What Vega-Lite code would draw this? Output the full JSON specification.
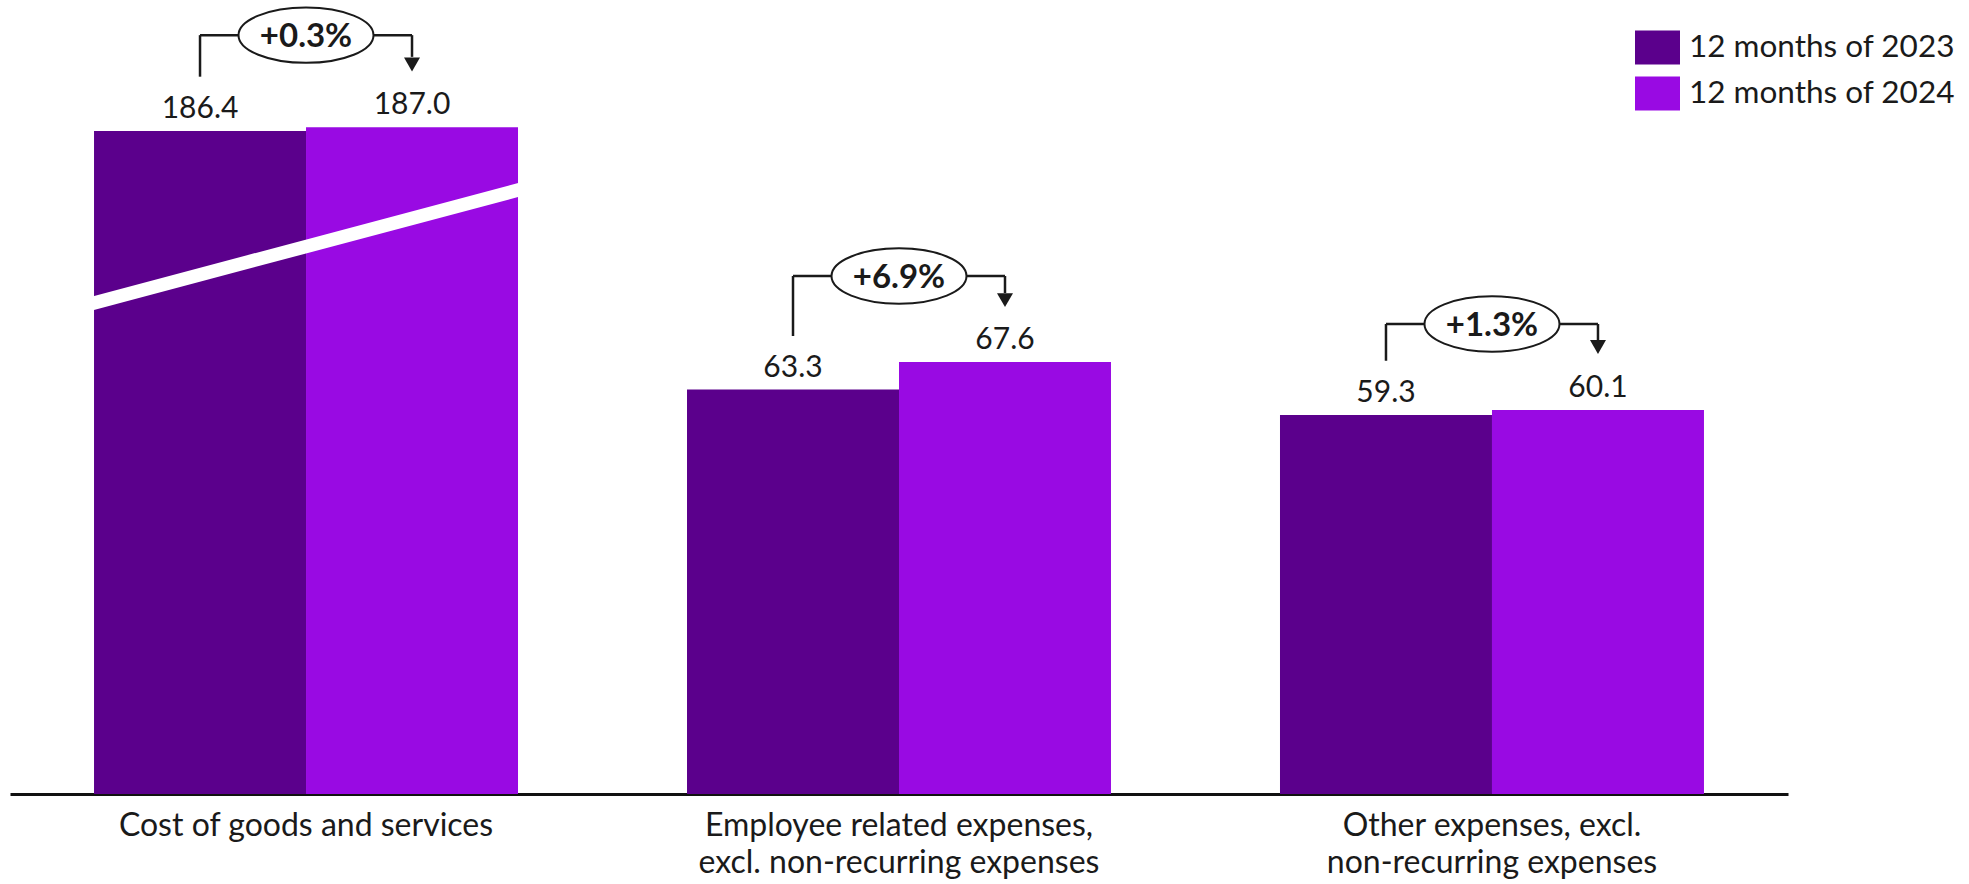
{
  "$schema": "https://vega.github.io/schema/vega-lite/v6.json",
  "width": 1778,
  "height": 794,
  "autosize": "none",
  "padding": {"left": 10, "top": 0, "right": 181, "bottom": 90},
  "datasets": {
    "bars": [
      {"cat": "Cost of goods and services", "series": "12 months of 2023", "value": 186.4},
      {"cat": "Cost of goods and services", "series": "12 months of 2024", "value": 187.0},
      {"cat": "Employee related expenses,|excl. non-recurring expenses", "series": "12 months of 2023", "value": 63.3},
      {"cat": "Employee related expenses,|excl. non-recurring expenses", "series": "12 months of 2024", "value": 67.6},
      {"cat": "Other expenses, excl.|non-recurring expenses", "series": "12 months of 2023", "value": 59.3},
      {"cat": "Other expenses, excl.|non-recurring expenses", "series": "12 months of 2024", "value": 60.1}
    ],
    "brk": [
      {"cat": "Cost of goods and services", "y1": 76.84, "y2": 145.3}
    ],
    "annot": [
      {"cat": "Cost of goods and services", "yh": 201.4, "ylb": 194.9, "yrb": 198.0, "ytri": 196.8, "label": "+0.3%"},
      {"cat": "Employee related expenses,|excl. non-recurring expenses", "yh": 81.06, "ylb": 71.67, "yrb": 78.4, "ytri": 77.3, "label": "+6.9%"},
      {"cat": "Other expenses, excl.|non-recurring expenses", "yh": 73.55, "ylb": 67.8, "yrb": 71.05, "ytri": 69.95, "label": "+1.3%"}
    ]
  },
  "layer": [
    {
      "data": {"name": "bars"},
      "mark": {"type": "bar"},
      "encoding": {
        "x": {
          "field": "cat", "type": "nominal", "sort": null,
          "scale": {"domain": ["Cost of goods and services", "Employee related expenses,|excl. non-recurring expenses", "Other expenses, excl.|non-recurring expenses"], "paddingInner": 0.285, "paddingOuter": 0.1417},
          "axis": {
            "title": null, "labelAngle": 0, "ticks": false, "grid": false,
            "domainColor": "#111111", "domainWidth": 3,
            "labelExpr": "split(datum.label, '|')",
            "labelFont": "Lato", "labelFontSize": 32, "labelColor": "#1a1a1a",
            "labelPadding": 16, "labelLineHeight": 37, "labelLimit": 600
          }
        },
        "xOffset": {"field": "series", "type": "nominal", "scale": {"paddingInner": 0, "paddingOuter": 0}},
        "y": {"field": "value", "type": "quantitative", "axis": null,
          "scale": {"type": "linear", "domain": [0, 90, 180, 210], "range": [794, 218.9, 171.9, -19.8], "zero": false, "nice": false}},
        "color": {
          "field": "series", "type": "nominal",
          "scale": {"domain": ["12 months of 2023", "12 months of 2024"], "range": ["#5B008C", "#990AE3"]},
          "legend": {
            "title": null, "orient": "none", "legendX": 1625, "legendY": 25,
            "symbolType": "M-1,-0.756H1V0.756H-1Z", "symbolSize": 2025, "symbolStrokeWidth": 0, "symbolOpacity": 1,
            "labelFont": "Lato", "labelFontSize": 31.5, "labelColor": "#1a1a1a", "labelOffset": 9,
            "rowPadding": 6, "padding": 0, "labelLimit": 400
          }
        }
      }
    },
    {
      "data": {"name": "bars"},
      "mark": {"type": "text", "baseline": "alphabetic", "dy": -13, "font": "Lato", "fontSize": 30, "color": "#1a1a1a"},
      "encoding": {
        "x": {"field": "cat", "type": "nominal", "sort": null},
        "xOffset": {"field": "series", "type": "nominal"},
        "y": {"field": "value", "type": "quantitative"},
        "text": {"field": "value", "type": "quantitative", "format": ".1f"}
      }
    },
    {
      "data": {"name": "brk"},
      "mark": {"type": "rule", "color": "#ffffff", "strokeWidth": 13.5, "strokeCap": "square"},
      "encoding": {
        "x": {"field": "cat", "type": "nominal", "bandPosition": 0},
        "x2": {"field": "cat", "bandPosition": 1},
        "y": {"field": "y1", "type": "quantitative"},
        "y2": {"field": "y2"}
      }
    },
    {
      "data": {"name": "annot"},
      "mark": {"type": "rule", "color": "#1a1a1a", "strokeWidth": 2.5},
      "encoding": {
        "x": {"field": "cat", "type": "nominal", "bandPosition": 0.25},
        "y": {"field": "yh", "type": "quantitative"},
        "y2": {"field": "ylb"}
      }
    },
    {
      "data": {"name": "annot"},
      "mark": {"type": "rule", "color": "#1a1a1a", "strokeWidth": 2.5},
      "encoding": {
        "x": {"field": "cat", "type": "nominal", "bandPosition": 0.25},
        "x2": {"field": "cat", "bandPosition": 0.75},
        "y": {"field": "yh", "type": "quantitative"}
      }
    },
    {
      "data": {"name": "annot"},
      "mark": {"type": "rule", "color": "#1a1a1a", "strokeWidth": 2.5},
      "encoding": {
        "x": {"field": "cat", "type": "nominal", "bandPosition": 0.75},
        "y": {"field": "yh", "type": "quantitative"},
        "y2": {"field": "yrb"}
      }
    },
    {
      "data": {"name": "annot"},
      "mark": {"type": "point", "shape": "triangle-down", "size": 256, "filled": true, "color": "#1a1a1a", "opacity": 1},
      "encoding": {
        "x": {"field": "cat", "type": "nominal", "bandPosition": 0.75},
        "y": {"field": "ytri", "type": "quantitative"}
      }
    },
    {
      "data": {"name": "annot"},
      "mark": {"type": "point", "shape": "M-1,0C-1,-0.2264,-0.5523,-0.41,0,-0.41C0.5523,-0.41,1,-0.2264,1,0C1,0.2264,0.5523,0.41,0,0.41C-0.5523,0.41,-1,0.2264,-1,0Z", "size": 18225, "filled": true, "fill": "#ffffff", "stroke": "#1a1a1a", "strokeWidth": 2, "opacity": 1},
      "encoding": {
        "x": {"field": "cat", "type": "nominal"},
        "y": {"field": "yh", "type": "quantitative"}
      }
    },
    {
      "data": {"name": "annot"},
      "mark": {"type": "text", "baseline": "middle", "dy": 2, "font": "Lato", "fontWeight": "bold", "fontSize": 33, "color": "#1a1a1a"},
      "encoding": {
        "x": {"field": "cat", "type": "nominal"},
        "y": {"field": "yh", "type": "quantitative"},
        "text": {"field": "label"}
      }
    }
  ],
  "config": {
    "view": {"stroke": null},
    "font": "Lato"
  }
}
